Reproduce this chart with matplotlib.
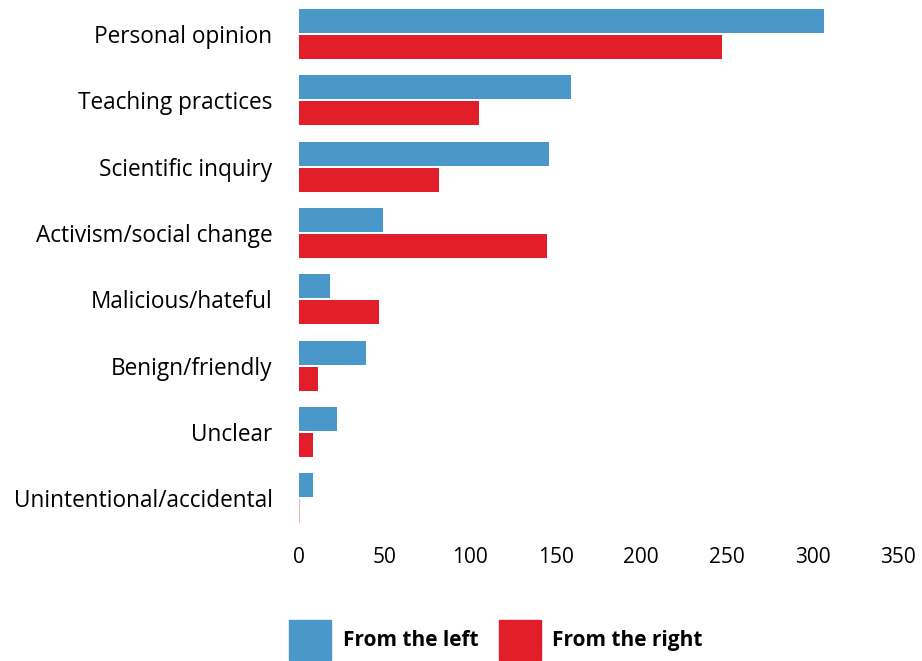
import matplotlib
matplotlib.use("Agg")
import numpy as np
import matplotlib.pyplot as plt
from matplotlib.patches import Patch

categories = ["Personal opinion", "Teaching practices", "Scientific inquiry",
              "Activism/social change", "Malicious/hateful", "Benign/friendly",
              "Unclear", "Unintentional/accidental"]
from_left = [307, 159, 146, 49, 18, 39, 22, 8]
from_right = [247, 105, 82, 145, 47, 11, 8, 0]
xticks = [0, 50, 100, 150, 200, 250, 300, 350]

blue = "#4a97c9"
red = "#e31e2b"

plt.rcParams["font.family"] = ["Open Sans", "DejaVu Sans"]

fig = plt.figure(figsize=(9.22, 6.61), dpi=100)
ax = fig.add_axes([299 / 922, 1 - 530 / 661, 599 / 922, 525 / 661])

y = np.arange(len(categories))
h = 24 / 66.3
off = 13 / 66.3
ax.barh(y - off, from_left, height=h, color=blue)
bars_r = ax.barh(y + off, from_right, height=h, color=red)
for b, v in zip(bars_r, from_right):
    if v == 0:
        b.set_edgecolor("#efb4b9")
        b.set_linewidth(1.5)

ax.set_ylim(7.48, -0.437)
ax.set_xlim(0, 350)
ax.set_xticks(xticks)
ax.set_yticks(y)
ax.set_yticklabels(categories, fontsize=16.3)
ax.tick_params(axis="y", length=0, pad=19)
ax.tick_params(axis="x", length=0, pad=12, labelsize=15)
for s in ax.spines.values():
    s.set_visible(False)

handles = [Patch(color=blue, label="From the left"),
           Patch(color=red, label="From the right")]
fig.legend(handles=handles, loc="center", bbox_to_anchor=(0.538, 0.032),
           ncol=2, frameon=False, handlelength=2.0, handleheight=2.55,
           handletextpad=0.55, columnspacing=1.0,
           prop={"weight": "bold", "size": 15})

fig.savefig("out.png", dpi=100)
